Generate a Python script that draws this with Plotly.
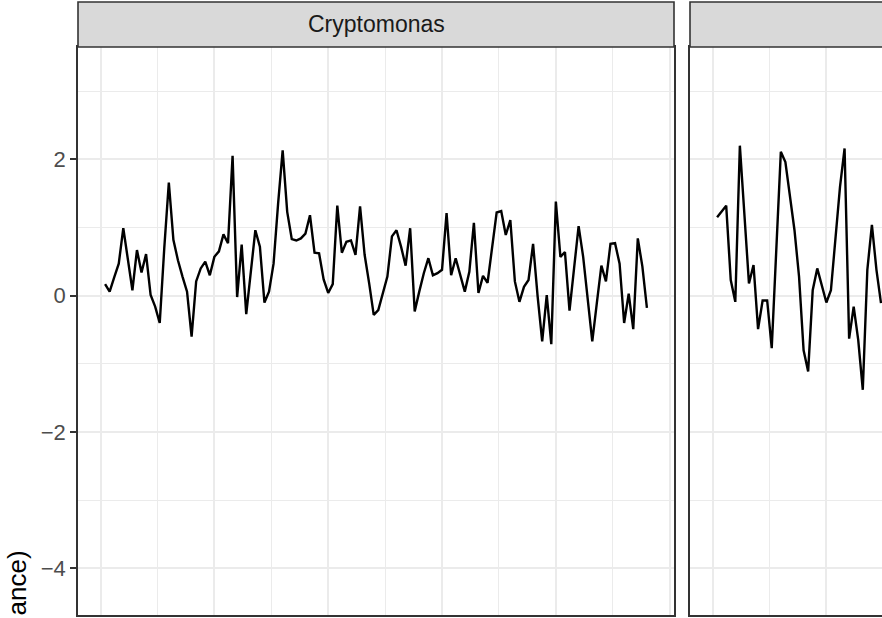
import plotly.graph_objects as go

# Time index (months) and scaled log-abundance series for each facet
months = list(range(1, 121))
cryptomonas = [
    0.17, 0.06, 0.27, 0.47, 0.99, 0.50, 0.08, 0.67, 0.34, 0.61,
    0.01, -0.16, -0.40, 0.70, 1.66, 0.82, 0.52, 0.28, 0.06, -0.60,
    0.21, 0.40, 0.50, 0.30, 0.57, 0.65, 0.90, 0.77, 2.05, -0.02,
    0.75, -0.27, 0.33, 0.96, 0.72, -0.10, 0.06, 0.47, 1.35, 2.13,
    1.23, 0.83, 0.81, 0.84, 0.91, 1.18, 0.63, 0.62, 0.24, 0.04,
    0.17, 1.32, 0.63, 0.79, 0.81, 0.60, 1.31, 0.60, 0.18, -0.28,
    -0.21, 0.04, 0.28, 0.87, 0.96, 0.72, 0.44, 0.99, -0.23, 0.06,
    0.33, 0.55, 0.30, 0.33, 0.38, 1.21, 0.30, 0.55, 0.30, 0.06,
    0.35, 1.07, 0.04, 0.29, 0.19, 0.72, 1.22, 1.24, 0.89, 1.11,
    0.21, -0.09, 0.13, 0.23, 0.76, -0.01, -0.67, 0.01, -0.71, 1.38,
    0.57, 0.64, -0.22, 0.40, 1.02, 0.57, -0.06, -0.67, -0.11, 0.44,
    0.21, 0.76, 0.77, 0.47, -0.40, 0.03, -0.49, 0.84, 0.43, -0.18,
]
panel2_values = [
    1.15, 1.23, 1.32, 0.23, -0.09, 2.20, 1.20, 0.18, 0.45, -0.49,
    -0.07, -0.07, -0.77, 0.65, 2.11, 1.96, 1.45, 0.96, 0.28, -0.80,
    -1.11, 0.08, 0.40, 0.13, -0.10, 0.08, 0.82, 1.60, 2.16, -0.63,
    -0.16, -0.65, -1.38, 0.38, 1.04, 0.38, -0.11,
]
panel2_months = months[:len(panel2_values)]

strip_label = "Cryptomonas"
y_title = "ance)"
y_ticks = [-4, -2, 0, 2]

W, H = 882, 618
GRID = "#EBEBEB"
DARK = "#333333"

def px_x(p):
    return p / W

def px_y(p):
    return 1 - p / H

panel_top, panel_bot = 47, 615
left_l, left_r = 78, 674
right_l = 690

x_full = [-4.95, 125.95]
# the second panel shares the x scale; only its left part fits in view
units_per_px = (x_full[1] - x_full[0]) / (left_r - left_l)
x_right = [x_full[0], x_full[0] + units_per_px * (W - right_l)]
y_range = [-4.682, 3.647]

fig = go.Figure()
fig.add_trace(go.Scatter(x=months, y=cryptomonas, mode="lines",
                         line=dict(color="black", width=2.4),
                         xaxis="x", yaxis="y", showlegend=False))
fig.add_trace(go.Scatter(x=panel2_months, y=panel2_values, mode="lines",
                         line=dict(color="black", width=2.4),
                         xaxis="x2", yaxis="y2", showlegend=False))

common_x = dict(range=x_full, tick0=0, dtick=25, showgrid=True, gridcolor=GRID,
                gridwidth=2.4, zeroline=False, showticklabels=False, ticks="",
                minor=dict(dtick=12.5, tick0=0, showgrid=True, gridcolor=GRID, gridwidth=1.3))
common_y = dict(range=y_range, tick0=0, dtick=2, showgrid=True, gridcolor=GRID,
                gridwidth=2.4, zeroline=False,
                minor=dict(dtick=1, tick0=0, showgrid=True, gridcolor=GRID, gridwidth=1.3))

dom_y = [px_y(panel_bot), px_y(panel_top)]

fig.update_layout(
    width=W, height=H, autosize=False,
    margin=dict(l=0, r=0, t=0, b=0),
    paper_bgcolor="white", plot_bgcolor="white",
    font=dict(family="Liberation Sans, Arial, sans-serif"),
    xaxis=dict(common_x, domain=[px_x(left_l), px_x(left_r)], anchor="y",
               showline=True, mirror=True, linecolor=DARK, linewidth=1.6),
    yaxis=dict(common_y, domain=dom_y, anchor="x",
               tickvals=y_ticks, ticktext=[("\u2212" + str(-v)) if v < 0 else str(v) for v in y_ticks],
               ticks="outside", ticklen=6, tickwidth=1.6, tickcolor=DARK,
               tickfont=dict(size=22, color="#4D4D4D"),
               showline=True, mirror=True, linecolor=DARK, linewidth=1.6),
    xaxis2=dict(common_x, range=x_right, domain=[px_x(right_l), 1], anchor="y2",
                showline=True, mirror=True, linecolor=DARK, linewidth=1.6),
    yaxis2=dict(common_y, domain=dom_y, anchor="x2", showticklabels=False, ticks="",
                showline=True, mirror=False, linecolor=DARK, linewidth=1.6),
)

# facet strips
fig.add_shape(type="rect", xref="paper", yref="paper",
              x0=px_x(left_l), x1=px_x(left_r), y0=px_y(panel_top), y1=px_y(2),
              fillcolor="#D9D9D9", line=dict(color=DARK, width=1.6), layer="above")
fig.add_shape(type="rect", xref="paper", yref="paper",
              x0=px_x(right_l), x1=px_x(W + 20), y0=px_y(panel_top), y1=px_y(2),
              fillcolor="#D9D9D9", line=dict(color=DARK, width=1.6), layer="above")
fig.add_annotation(text=strip_label, xref="paper", yref="paper",
                   x=px_x((left_l + left_r) / 2), y=px_y(24.5),
                   xanchor="center", yanchor="middle", showarrow=False,
                   font=dict(size=23, color="#1A1A1A"))

# y-axis title
fig.add_annotation(text=y_title, xref="paper", yref="paper",
                   x=px_x(16), y=px_y(549), xanchor="center", yanchor="top",
                   textangle=-90, showarrow=False,
                   font=dict(size=26, color="black"))

fig.write_html("out.html")
